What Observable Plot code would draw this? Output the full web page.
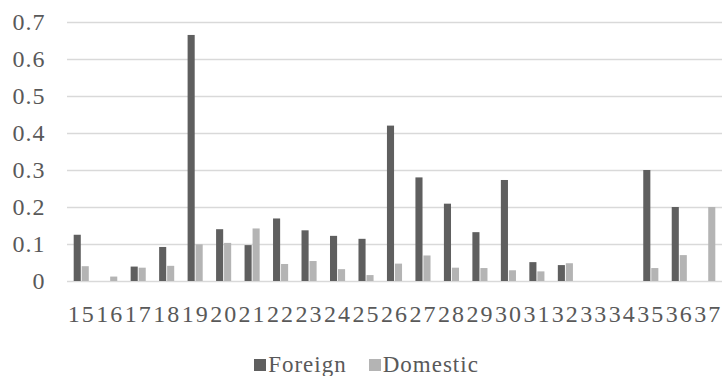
<!DOCTYPE html>
<html>
<head>
<meta charset="utf-8">
<script src="https://cdn.jsdelivr.net/npm/d3@7"></script>
<script src="https://cdn.jsdelivr.net/npm/@observablehq/plot@0.6"></script>
<style>
  html, body { margin: 0; padding: 0; background: #fff; }
  #chart { width: 723px; }
  #chart svg { font-family: "Liberation Serif", serif !important; }
  #chart svg .x-axis text { letter-spacing: 2px; }
  #chart svg .y-axis text { letter-spacing: 1px; }
  .legend {
    display: flex; justify-content: center; align-items: center;
    margin-top: 19px; height: 22px; line-height: 22px;
    font-family: "Liberation Serif", serif; font-size: 23px; color: #595959;
    letter-spacing: 1px; padding-left: 10px;
  }
  .legend .item { display: flex; align-items: center; }
  .legend .item + .item { margin-left: 22px; }
  .legend .sw { width: 12px; height: 12px; margin-right: 2px; }
</style>
</head>
<body>
<div id="chart"></div>
<script>
// Category codes along the x axis
const categories = ["15","16","17","18","19","20","21","22","23","24","25","26",
                    "27","28","29","30","31","32","33","34","35","36","37"];
// Series values per category
const foreign  = [0.125, 0, 0.039, 0.092, 0.665, 0.140, 0.097, 0.169, 0.137, 0.122, 0.114, 0.420,
                  0.280, 0.209, 0.132, 0.273, 0.051, 0.043, 0, 0, 0.300, 0.200, 0];
const domestic = [0.040, 0.012, 0.036, 0.041, 0.099, 0.103, 0.142, 0.046, 0.054, 0.032, 0.016, 0.047,
                  0.069, 0.036, 0.035, 0.029, 0.026, 0.048, 0, 0, 0.035, 0.070, 0.200];
const seriesNames = ["Foreign", "Domestic"];
const seriesColors = ["#5f5f5f", "#b4b4b4"];
// Value axis ticks
const yTicks = [0, 0.1, 0.2, 0.3, 0.4, 0.5, 0.6, 0.7];

const foreignRows  = categories.map((c, i) => ({category: c, value: foreign[i]}));
const domesticRows = categories.map((c, i) => ({category: c, value: domestic[i]}));

const chart = Plot.plot({
  width: 723,
  height: 335,
  marginTop: 22,
  marginBottom: 54,
  marginLeft: 67,
  marginRight: 1,
  style: {fontFamily: "'Liberation Serif', serif", fontSize: "24px", color: "#595959", background: "#fff"},
  x: {domain: categories, paddingInner: 0.47, paddingOuter: 0.235, round: false, axis: null},
  y: {domain: [0, 0.7], axis: null},
  marks: [
    Plot.ruleY(yTicks, {stroke: "#d9d9d9", strokeWidth: 1.5}),
    Plot.barY(foreignRows, {x: "category", y: "value", fill: seriesColors[0], insetRight: 8}),
    Plot.barY(domesticRows, {x: "category", y: "value", fill: seriesColors[1], insetLeft: 8}),
    Plot.axisY({ticks: yTicks, tickSize: 0, tickPadding: 22, fill: "#595959", label: null,
                className: "y-axis", tickFormat: d => d === 0 ? "0" : String(d)}),
    Plot.axisX({tickSize: 0, tickPadding: 23, fill: "#595959", label: null, className: "x-axis"})
  ]
});
document.getElementById("chart").appendChild(chart);

// Series key below the chart
const legend = document.createElement("div");
legend.className = "legend";
seriesNames.forEach((name, i) => {
  const item = document.createElement("div");
  item.className = "item";
  const sw = document.createElement("span");
  sw.className = "sw";
  sw.style.background = seriesColors[i];
  const label = document.createElement("span");
  label.textContent = name;
  item.appendChild(sw);
  item.appendChild(label);
  legend.appendChild(item);
});
document.getElementById("chart").appendChild(legend);
</script>
</body>
</html>
